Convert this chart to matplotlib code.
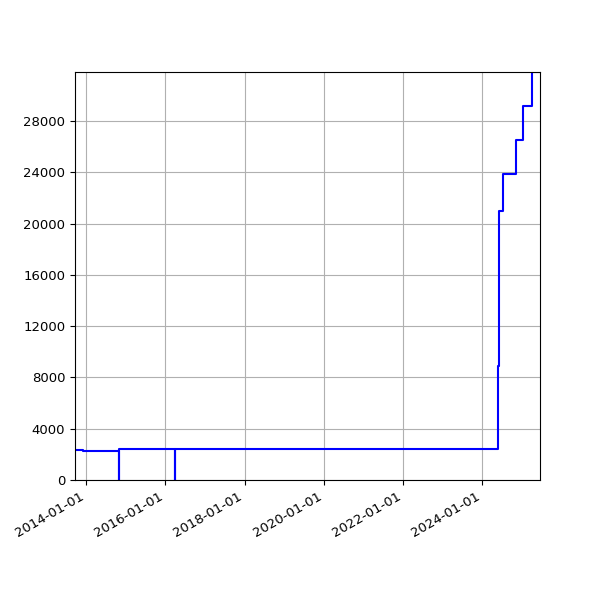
import matplotlib
matplotlib.use("Agg")
import matplotlib.pyplot as plt
import matplotlib.dates as mdates
import numpy as np
import pandas as pd

dates = pd.to_datetime([
    "2013-09-20", "2013-12-01", "2014-10-27", "2014-11-04",
    "2016-03-30", "2016-04-01", "2024-05-25", "2024-06-03",
    "2024-07-08", "2024-11-06", "2025-01-08", "2025-04-08",
    "2025-06-17",
])
values = [2340, 2270, 0, 2440, 0, 2440, 8890, 21000, 23870, 26520, 29190, 31820, 31820]

fig, ax = plt.subplots(figsize=(6, 6), dpi=100)
ax.step(dates, values, where="post", color="blue", linewidth=1.5)

ax.set_xlim(dates[0], dates[-1])
ax.set_ylim(0, max(values))
ax.set_yticks(np.arange(0, 28001, 4000))
ax.xaxis.set_major_locator(mdates.YearLocator(2))
ax.xaxis.set_major_formatter(mdates.DateFormatter("%Y-%m-%d"))
ax.tick_params(labelsize=9.5)
ax.grid(True)
fig.autofmt_xdate()

plt.savefig("out.png", dpi=100)
